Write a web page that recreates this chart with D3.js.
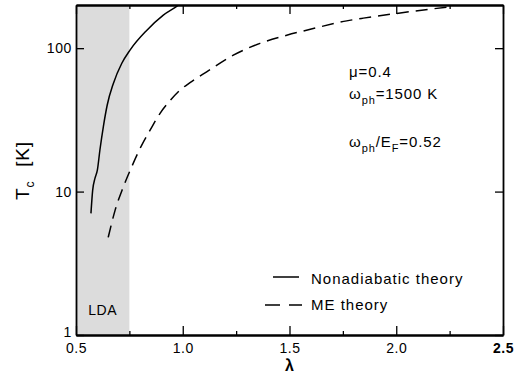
<!DOCTYPE html>
<html>
<head>
<meta charset="utf-8">
<script src="https://cdn.jsdelivr.net/npm/d3@7"></script>
<style>
  body { margin: 0; background: #fff; }
  text { font-family: "Liberation Sans", Arial, Helvetica, sans-serif; fill: #000; }
</style>
</head>
<body>
<svg id="chart" width="522" height="380"></svg>
<script>
// values
var nonadLambda = [0.570, 0.578, 0.589, 0.600, 0.612, 0.628, 0.646, 0.675, 0.714, 0.753, 0.831, 0.909, 0.979, 0.99];
var nonadTc     = [7.05, 10.2, 12.4, 14.1, 19.5, 28.3, 40, 56.8, 78.2, 97, 133, 170, 199.5, 206];

var meLambda = [0.651, 0.683, 0.722, 0.761, 0.808, 0.847, 0.893, 0.94, 0.987, 1.034, 1.112, 1.237, 1.362, 1.487, 1.611, 1.768, 1.846, 2.0, 2.158, 2.26];
var meTc     = [4.8, 7.4, 10.8, 14.9, 21.1, 26.8, 35, 43, 51, 57.5, 68.4, 89.4, 108, 123, 137, 155, 162, 174.5, 187, 195];

var xMajor = [0.5, 1.0, 1.5, 2.0, 2.5];
var xMinor = [0.75, 1.25, 1.75, 2.25];
var yMajor = [1, 10, 100];
var ldaRange = [0.5, 0.75];

var svg = d3.select('#chart');

var x = d3.scaleLinear().domain([0.5, 2.5]).range([76, 503]);
var y = d3.scaleLog().domain([1, 200]).range([335, 5]);

svg.append('defs').append('clipPath').attr('id', 'plotClip')
	.append('rect')
	.attr('x', x(0.5)).attr('y', y(200))
	.attr('width', x(2.5) - x(0.5)).attr('height', y(1) - y(200));

// LDA band
svg.append('rect')
	.attr('x', x(ldaRange[0]))
	.attr('y', y(200))
	.attr('width', x(ldaRange[1]) - x(ldaRange[0]))
	.attr('height', y(1) - y(200))
	.attr('fill', '#dcdcdc');

svg.append('text')
	.attr('x', x((ldaRange[0] + ldaRange[1]) / 2))
	.attr('y', 315)
	.attr('text-anchor', 'middle')
	.style('font-size', '14px')
	.style('letter-spacing', '0.6px')
	.text('LDA');

// curves
var line = d3.line()
	.x(function(d) { return x(d[0]); })
	.y(function(d) { return y(d[1]); })
	.curve(d3.curveMonotoneX);

var curves = svg.append('g').attr('clip-path', 'url(#plotClip)');

curves.append('path')
	.datum(d3.zip(nonadLambda, nonadTc))
	.attr('d', line)
	.attr('fill', 'none')
	.attr('stroke', '#000')
	.attr('stroke-width', 1.5);

curves.append('path')
	.datum(d3.zip(meLambda, meTc))
	.attr('d', line)
	.attr('fill', 'none')
	.attr('stroke', '#000')
	.attr('stroke-width', 1.5)
	.attr('stroke-dasharray', '12,7');

// axes
function styleAxis(g) {
	g.selectAll('.domain').attr('stroke-width', 1.8);
	g.selectAll('.tick line').attr('stroke-width', 1.3);
	g.selectAll('.tick text')
		.style('font-family', '"Liberation Sans", Arial, sans-serif')
		.style('font-size', '14px')
		.style('letter-spacing', '0.6px');
}

var xAxis = svg.append('g')
	.attr('transform', 'translate(0,' + y(1) + ')')
	.call(d3.axisBottom(x).tickValues(xMajor).tickSize(-9).tickSizeOuter(0).tickPadding(8)
		.tickFormat(d3.format('.1f')))
	.call(styleAxis);
xAxis.selectAll('.tick text')
	.filter(function(d) { return d === 2.5; })
	.style('font-weight', 'bold');

svg.append('g')
	.attr('transform', 'translate(0,' + y(1) + ')')
	.call(d3.axisBottom(x).tickValues(xMinor).tickSize(-4).tickSizeOuter(0).tickFormat(''))
	.call(styleAxis);

svg.append('g')
	.attr('transform', 'translate(0,' + y(200) + ')')
	.call(d3.axisTop(x).tickValues(xMajor).tickSize(-9).tickSizeOuter(0).tickFormat(''))
	.call(styleAxis);

svg.append('g')
	.attr('transform', 'translate(0,' + y(200) + ')')
	.call(d3.axisTop(x).tickValues(xMinor).tickSize(-4).tickSizeOuter(0).tickFormat(''))
	.call(styleAxis);

var yAxis = svg.append('g')
	.attr('transform', 'translate(' + x(0.5) + ',0)')
	.call(d3.axisLeft(y).tickValues(yMajor).tickSize(-8).tickSizeOuter(0).tickPadding(4)
		.tickFormat(d3.format('d')))
	.call(styleAxis);
// the "1" sits a little above the corner so it clears "0.5"
yAxis.selectAll('.tick text')
	.filter(function(d) { return d === 1; })
	.attr('dy', '0.12em');

svg.append('g')
	.attr('transform', 'translate(' + x(2.5) + ',0)')
	.call(d3.axisRight(y).tickValues(yMajor).tickSize(-8).tickSizeOuter(0).tickFormat(''))
	.call(styleAxis);

// axis titles
svg.append('text')
	.attr('x', x(1.5))
	.attr('y', 371)
	.attr('text-anchor', 'middle')
	.style('font-size', '16px')
	.style('font-weight', 'bold')
	.text('λ');

var yTitle = svg.append('text')
	.attr('transform', 'translate(29,200) rotate(-90)')
	.style('font-size', '19px')
	.style('letter-spacing', '0.8px');
yTitle.append('tspan').text('T');
yTitle.append('tspan').attr('dy', 5).style('font-size', '12px').text('c');
yTitle.append('tspan').attr('dy', -5).attr('dx', 14).text('[K]');

// annotations
var note = svg.append('g').style('font-size', '15px').style('letter-spacing', '0.9px');
note.append('text').attr('x', 349).attr('y', 77).text('μ=0.4');

var t2 = note.append('text').attr('x', 349).attr('y', 99);
t2.append('tspan').text('ω');
t2.append('tspan').attr('dy', 5).style('font-size', '11px').text('ph');
t2.append('tspan').attr('dy', -5).text('=1500 K');

var t3 = note.append('text').attr('x', 349).attr('y', 147);
t3.append('tspan').text('ω');
t3.append('tspan').attr('dy', 5).style('font-size', '11px').text('ph');
t3.append('tspan').attr('dy', -5).text('/E');
t3.append('tspan').attr('dy', 5).style('font-size', '11px').text('F');
t3.append('tspan').attr('dy', -5).text('=0.52');

// legend
var legend = svg.append('g').style('font-size', '15px').style('letter-spacing', '1px');
legend.append('line')
	.attr('x1', 273).attr('x2', 299).attr('y1', 277).attr('y2', 277)
	.attr('stroke', '#000').attr('stroke-width', 1.5);
legend.append('text').attr('x', 311).attr('y', 284).text('Nonadiabatic theory');

legend.append('line')
	.attr('x1', 265).attr('x2', 302).attr('y1', 305).attr('y2', 305)
	.attr('stroke', '#000').attr('stroke-width', 1.5)
	.attr('stroke-dasharray', '15,9');
legend.append('text').attr('x', 311).attr('y', 310).text('ME theory');
</script>
</body>
</html>
